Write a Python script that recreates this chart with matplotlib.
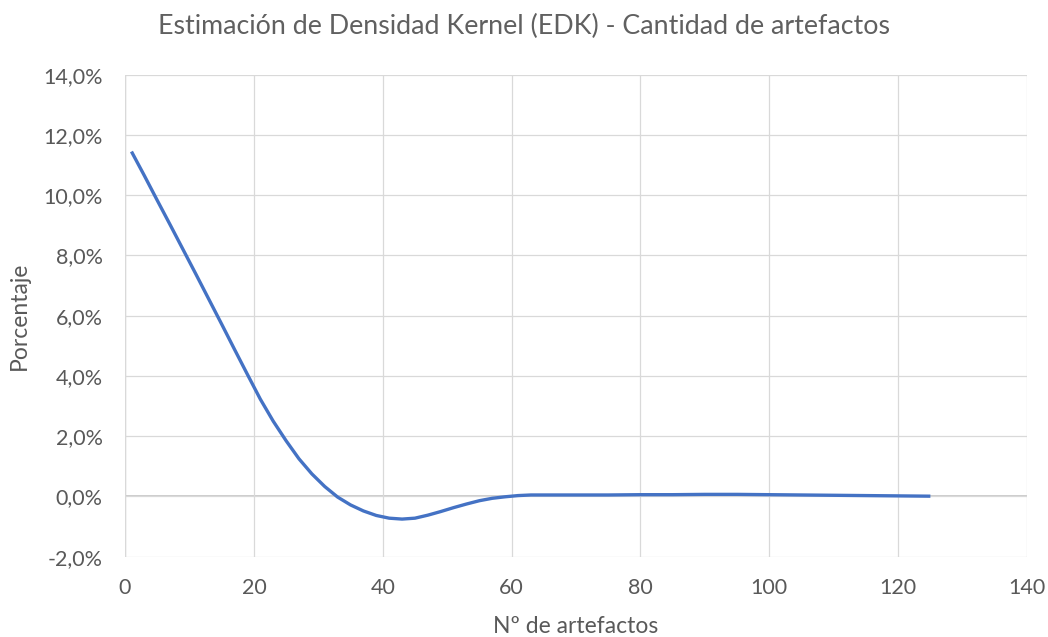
import matplotlib.pyplot as plt
from matplotlib.ticker import FuncFormatter

# Número de artefactos y densidad estimada (%)
artefactos = [1, 3, 5, 7, 9, 11, 13, 15, 17, 19, 21, 23, 25, 27, 29, 31, 33, 35,
              37, 39, 41, 43, 45, 47, 49, 51, 53, 55, 57, 59, 61, 63, 65, 70, 75,
              80, 85, 90, 95, 100, 105, 110, 115, 120, 125]
densidad = [11.45, 10.65, 9.83, 9.02, 8.20, 7.38, 6.55, 5.72, 4.88, 4.05, 3.23,
            2.50, 1.85, 1.25, 0.75, 0.33, -0.02, -0.28, -0.48, -0.63, -0.72,
            -0.75, -0.72, -0.62, -0.50, -0.37, -0.25, -0.14, -0.06, -0.01, 0.03,
            0.05, 0.05, 0.05, 0.05, 0.06, 0.06, 0.07, 0.07, 0.06, 0.05, 0.04,
            0.03, 0.02, 0.01]

x_ticks = [0, 20, 40, 60, 80, 100, 120, 140]
y_ticks = [-2, 0, 2, 4, 6, 8, 10, 12, 14]

plt.rcParams['font.family'] = ['Lato', 'DejaVu Sans']
text_color = '#595959'

fig = plt.figure(figsize=(10.48, 6.37), dpi=100)
ax = fig.add_axes([0.1193, 0.126, 0.8607, 0.7567])

ax.plot(artefactos, densidad, color='#4472C4', linewidth=2.4,
        solid_capstyle='butt', zorder=3)

ax.set_xlim(0, 140)
ax.set_ylim(-2, 14)
ax.set_xticks(x_ticks)
ax.set_yticks(y_ticks)
ax.yaxis.set_major_formatter(FuncFormatter(lambda v, p: f"{v:.1f}%".replace('.', ',')))

ax.grid(True, color='#d9d9d9', linewidth=0.9, zorder=0)
ax.axhline(0, color='#bfbfbf', linewidth=1.1, zorder=1)
ax.axvline(0, color='#bfbfbf', linewidth=1.6, zorder=1)
for s in ax.spines.values():
    s.set_visible(False)

ax.tick_params(length=0, labelsize=15.5, colors=text_color)
ax.tick_params(axis='y', pad=16)
ax.tick_params(axis='x', pad=15)

fig.suptitle("Estimación de Densidad Kernel (EDK) - Cantidad de artefactos",
             x=0.5, y=0.978, fontsize=19.3, color='#606060')
ax.set_xlabel("Nº de artefactos", fontsize=16.5, color=text_color, labelpad=13)
ax.set_ylabel("Porcentaje", fontsize=16.5, color=text_color, labelpad=10)

fig.savefig('out.png', dpi=100)
